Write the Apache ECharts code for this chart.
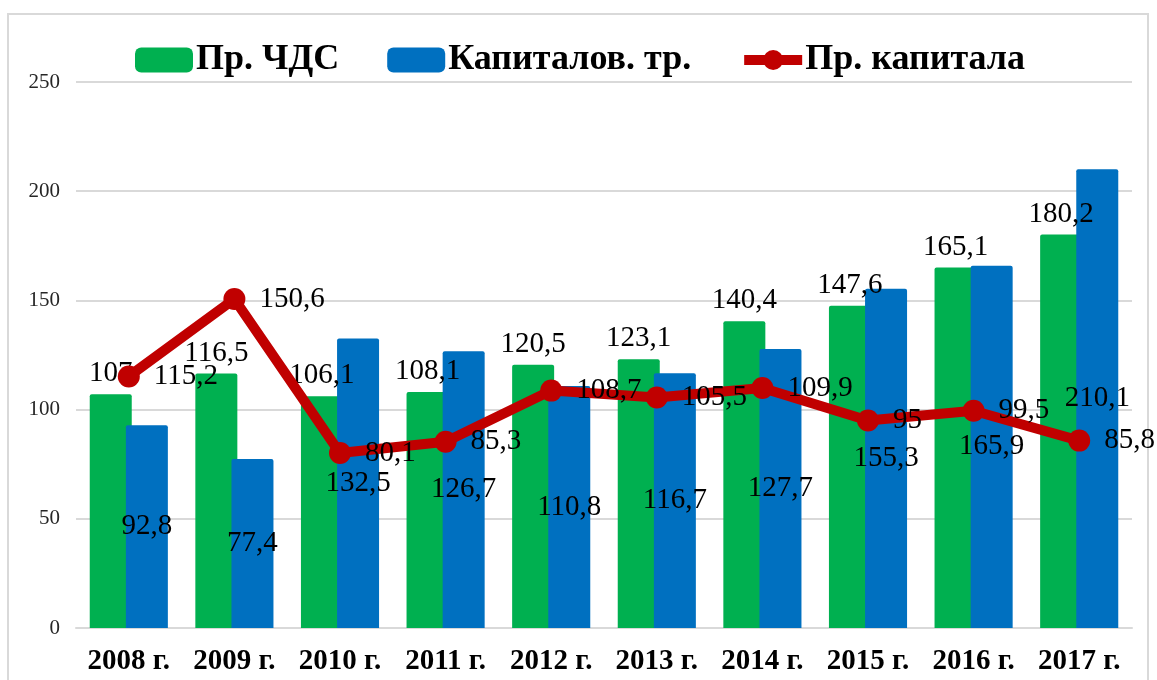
<!DOCTYPE html>
<html>
<head>
<meta charset="utf-8">
<style>
  html, body { margin: 0; padding: 0; background: #fff; }
  #chart { width: 1157px; height: 680px; }
</style>
<script src="https://cdn.jsdelivr.net/npm/echarts@6/dist/echarts.min.js"></script>
</head>
<body>
<div id="chart"></div>
<script>
// данные
var years = ['2008 г.', '2009 г.', '2010 г.', '2011 г.', '2012 г.', '2013 г.', '2014 г.', '2015 г.', '2016 г.', '2017 г.'];
var prChds = [107, 116.5, 106.1, 108.1, 120.5, 123.1, 140.4, 147.6, 165.1, 180.2];
var kapTr = [92.8, 77.4, 132.5, 126.7, 110.8, 116.7, 127.7, 155.3, 165.9, 210.1];
var prKap = [115.2, 150.6, 80.1, 85.3, 108.7, 105.5, 109.9, 95, 99.5, 85.8];

var serif = '"Times New Roman", "Liberation Serif", serif';
function fmt(p) { return String(p.value).replace('.', ','); }

var chart = echarts.init(document.getElementById('chart'));
chart.setOption({
    animation: false,
    graphic: [{
        type: 'rect',
        shape: { x: 8, y: 14, width: 1140, height: 700 },
        style: { fill: 'none', stroke: '#d9d9d9', lineWidth: 2 },
        silent: true
    }],
    grid: { left: 76, right: 25, top: 82, bottom: 52 },
    legend: {
        left: 130,
        top: 37,
        itemWidth: 58,
        itemHeight: 25,
        itemGap: 48,
        textStyle: { fontFamily: serif, fontWeight: 'bold', fontSize: 36, color: '#000', padding: [0, 0, 0, -2] },
        data: [
            { name: 'Пр. ЧДС', icon: 'roundRect' },
            { name: 'Капиталов. тр.', icon: 'roundRect' },
            { name: 'Пр. капитала', lineStyle: { width: 10 } }
        ]
    },
    xAxis: {
        type: 'category',
        data: years,
        axisTick: { show: false },
        axisLine: { lineStyle: { color: '#d9d9d9', width: 2 } },
        axisLabel: { interval: 0, margin: 19, fontFamily: serif, fontWeight: 'bold', fontSize: 29, color: '#000' }
    },
    yAxis: {
        type: 'value',
        min: 0,
        max: 250,
        interval: 50,
        axisLabel: { margin: 16, fontFamily: serif, fontSize: 21, color: '#262626' },
        splitLine: { lineStyle: { color: '#d9d9d9', width: 2 } }
    },
    series: [
        {
            name: 'Пр. ЧДС',
            type: 'bar',
            data: prChds,
            barWidth: 42,
            barGap: '-14%',
            itemStyle: { color: '#00b050', borderRadius: [2, 2, 0, 0] },
            label: { show: true, position: 'top', distance: 6, formatter: fmt,
                     fontFamily: serif, fontSize: 29, color: '#000' }
        },
        {
            name: 'Капиталов. тр.',
            type: 'bar',
            data: kapTr,
            barWidth: 42,
            itemStyle: { color: '#0070c0', borderRadius: [2, 2, 0, 0] },
            label: { show: true, position: 'inside', formatter: fmt,
                     fontFamily: serif, fontSize: 29, color: '#000' }
        },
        {
            name: 'Пр. капитала',
            type: 'line',
            data: prKap,
            symbol: 'circle',
            symbolSize: 22,
            z: 5,
            lineStyle: { color: '#c00000', width: 10 },
            itemStyle: { color: '#c00000' },
            label: { show: true, position: 'right', distance: 14, formatter: fmt,
                     fontFamily: serif, fontSize: 29, color: '#000' }
        }
    ]
});
</script>
</body>
</html>
